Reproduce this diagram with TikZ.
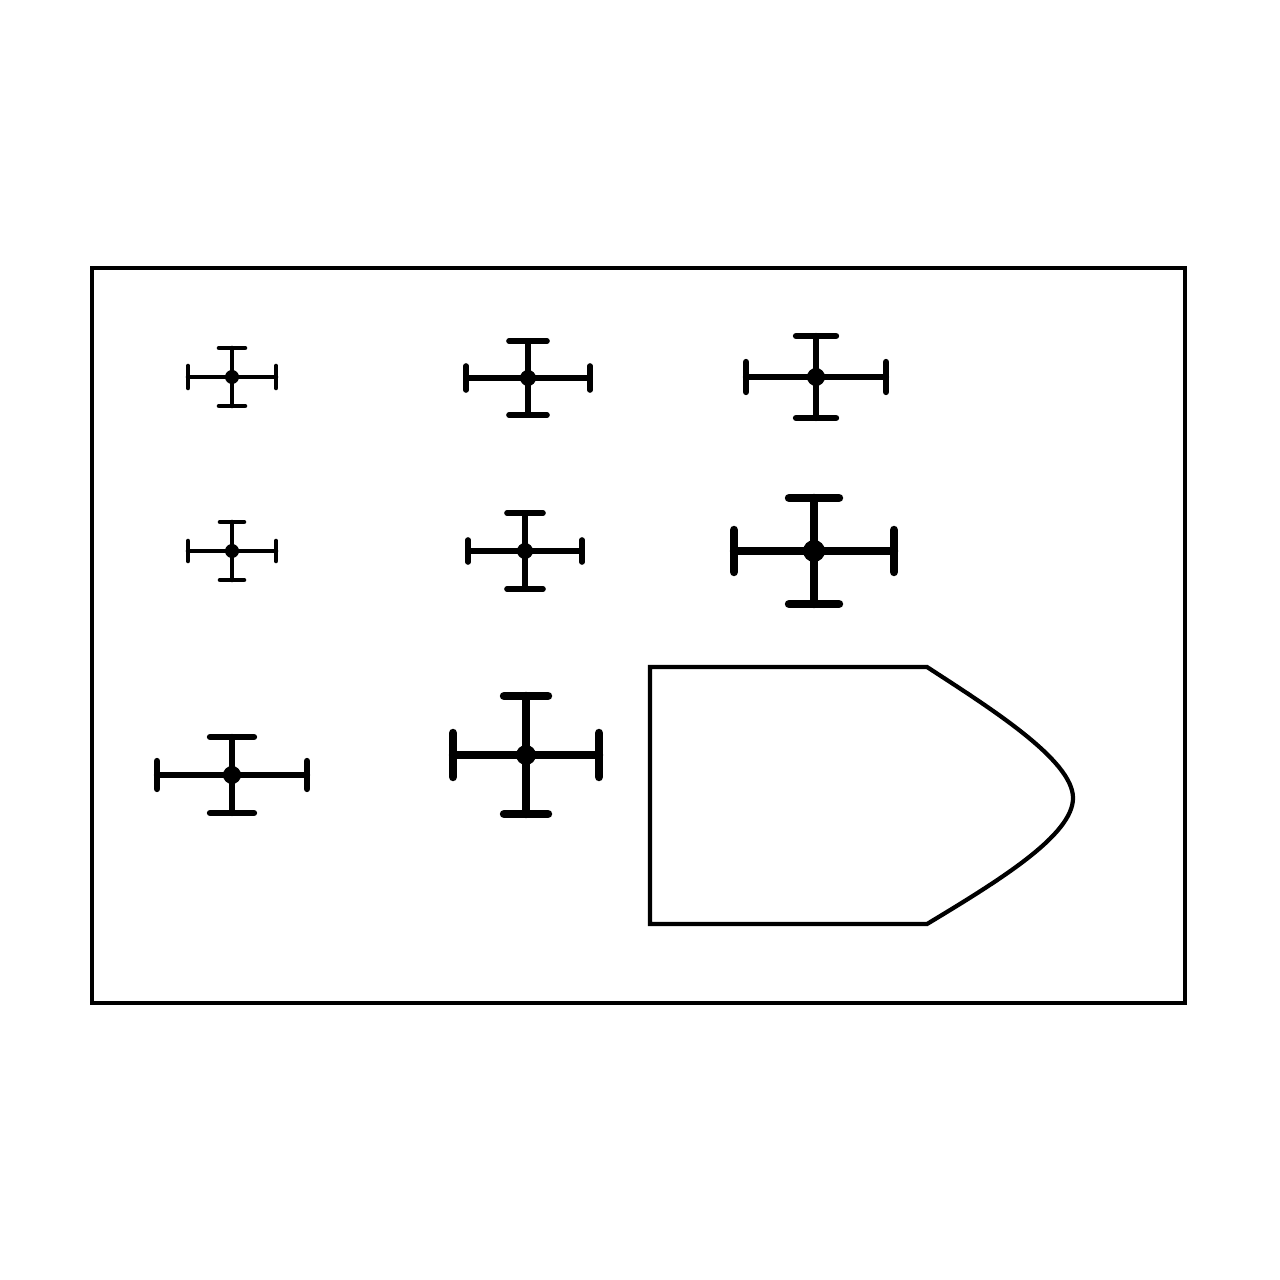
\documentclass[tikz,border=0pt]{standalone}
\usepackage{tikz}

% I-beam cross: x, y, half width, half height, side bar, top bar, line width (pt), dot radius
\newcommand{\beamcross}[8]{%
  \begin{scope}[line width=#7pt, line cap=round]
    \draw (#1-#3,#2) -- (#1+#3,#2);
    \draw (#1,#2-#4) -- (#1,#2+#4);
    \draw (#1-#3,#2-#5) -- (#1-#3,#2+#5);
    \draw (#1+#3,#2-#5) -- (#1+#3,#2+#5);
    \draw (#1-#6,#2-#4) -- (#1+#6,#2-#4);
    \draw (#1-#6,#2+#4) -- (#1+#6,#2+#4);
  \end{scope}
  \fill (#1,#2) circle (#8);
}

\begin{document}
\begin{tikzpicture}[x=0.01cm,y=-0.01cm]

  \useasboundingbox (0,0) rectangle (1280,1280);

  % Frame
  \draw[line width=1.2pt] (92,268) rectangle (1185,1003);

  % Crosses, first row
  \beamcross{232}{377}{44}{29}{11}{13}{1.3}{7}
  \beamcross{528}{378}{62}{37}{12}{19}{1.6}{8}
  \beamcross{816}{377}{70}{41}{15}{20}{1.8}{9}

  % Crosses, second row
  \beamcross{232}{551}{44}{29}{10}{12}{1.3}{7}
  \beamcross{525}{551}{57}{38}{11}{18}{1.6}{8}
  \beamcross{814}{551}{80}{53}{21}{25}{2.4}{11}

  % Crosses, third row
  \beamcross{232}{775}{75}{38}{14}{22}{1.8}{9}
  \beamcross{526}{755}{73}{59}{22}{22}{2.4}{10}

  % Hull
  \draw[line width=1.2pt, line join=miter]
    (650,667) -- (927,667)
    .. controls (990,708) and (1073,760) .. (1073,798)
    .. controls (1073,835) and (1000,880) .. (927,924)
    -- (650,924) -- cycle;

\end{tikzpicture}
\end{document}
